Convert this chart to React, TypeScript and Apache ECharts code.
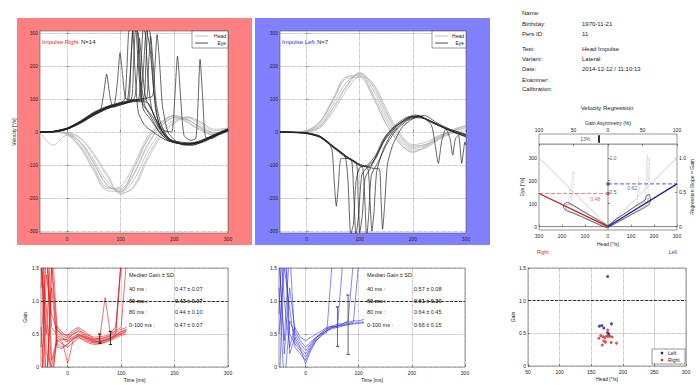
import React, { useEffect, useRef } from 'react';
import * as echarts from 'echarts';

// ---------------- data ----------------
const TIME25 = [-50, -25, 0, 25, 50, 75, 100, 125, 150, 175, 200, 225, 250, 275, 300];
const TIME10 = [-50, -40, -30, -20, -10, 0, 10, 20, 30, 40, 50, 60, 70, 80, 90, 100, 110];
const TIME_TICKS = [0, 100, 200, 300];
const VEL_TICKS = [-300, -200, -100, 0, 100, 200, 300];

// Impulse Right: head traces (light gray)
const HEAD_RIGHT = [
  [0, 0, -3, -30, -92, -160, -176, -128, -42, 14, 42, 36, 12, -5, 4],
  [0, 0, -8, -48, -118, -178, -180, -108, -22, 26, 50, 30, 6, -10, 6],
  [0, -40, -10, -30, -85, -150, -182, -145, -60, 2, 36, 42, 20, -2, 2],
  [0, 0, -2, -20, -70, -135, -188, -162, -75, -8, 30, 46, 26, 4, 10],
  [0, 0, -5, -40, -105, -168, -172, -110, -25, 25, 50, 38, 10, -10, 0],
  [0, 0, -7, -45, -112, -172, -165, -98, -15, 30, 48, 28, 4, -8, 10],
  [0, 0, -1, -18, -65, -128, -185, -168, -85, -15, 25, 45, 30, 8, 12],
  [0, 0, -3, -32, -95, -162, -180, -125, -38, 18, 44, 36, 14, -3, 5],
];
// Impulse Right: eye traces (dark)
const EYE_RIGHT = [
  [[-50, 0], [-25, 1], [0, 9], [25, 28], [50, 52], [62, 62], [68, 110], [74, 175], [80, 110], [86, 75], [100, 82], [112, 90], [118, 180], [124, 310], [130, 310], [136, 170], [142, 70], [155, 40], [170, 5], [185, -20], [200, -30], [225, -38], [250, -28], [275, -10], [300, 8]],
  [[-50, 0], [-25, 2], [0, 11], [25, 32], [50, 58], [75, 74], [88, 82], [94, 150], [99, 240], [104, 170], [110, 100], [125, 98], [135, 95], [142, 180], [148, 310], [155, 250], [162, 120], [172, 20], [190, -25], [210, -35], [235, -40], [260, -20], [285, 0], [300, 10]],
  [[-50, 0], [-25, 1], [0, 10], [25, 30], [50, 56], [75, 75], [100, 88], [108, 100], [112, 200], [116, 310], [122, 310], [127, 180], [133, 60], [145, 20], [165, -5], [185, -25], [210, -33], [235, -35], [260, -22], [285, -5], [300, 5]],
  [[-50, 0], [-25, 0], [0, 8], [25, 26], [50, 50], [75, 70], [100, 84], [115, 92], [119, 200], [123, 310], [128, 310], [133, 200], [140, 90], [155, 50], [172, 0], [190, -28], [215, -35], [245, -30], [270, -12], [300, 6]],
  [[-50, 0], [-25, 1], [0, 10], [25, 31], [50, 57], [75, 76], [100, 88], [120, 98], [124, 200], [128, 310], [133, 300], [138, 160], [145, 80], [160, 45], [178, -5], [200, -32], [225, -36], [250, -25], [275, -8], [300, 9]],
  [[-50, 0], [-25, 2], [0, 12], [25, 33], [50, 60], [75, 78], [100, 90], [125, 100], [130, 160], [135, 285], [140, 200], [147, 100], [160, 60], [175, 10], [195, -25], [220, -40], [245, -32], [270, -15], [300, 4]],
  [[-50, 0], [-25, 1], [0, 9], [25, 29], [50, 54], [75, 73], [100, 86], [125, 96], [134, 100], [138, 200], [142, 310], [146, 300], [151, 160], [158, 70], [172, 15], [190, -22], [210, -30], [240, -34], [265, -18], [290, 0], [300, 6]],
  [[-50, 0], [-25, 1], [0, 10], [25, 30], [50, 55], [75, 74], [100, 85], [125, 95], [143, 102], [147, 200], [151, 310], [155, 300], [160, 170], [166, 60], [178, 0], [195, -28], [220, -38], [250, -30], [275, -12], [300, 7]],
  [[-50, 0], [-25, 0], [0, 8], [25, 27], [50, 51], [75, 71], [100, 83], [125, 93], [148, 100], [152, 200], [156, 290], [161, 200], [166, 90], [175, 25], [190, -20], [215, -35], [240, -36], [265, -20], [300, 3]],
  [[-50, 0], [-25, 2], [0, 11], [25, 31], [50, 57], [75, 75], [100, 87], [125, 97], [150, 103], [160, 110], [164, 200], [168, 295], [173, 200], [178, 80], [188, 0], [205, -30], [230, -40], [255, -30], [280, -10], [300, 8]],
  [[-50, 0], [-25, 1], [0, 9], [25, 29], [50, 53], [75, 72], [100, 84], [125, 92], [150, 90], [165, 40], [180, 5], [195, 0], [200, 80], [206, 230], [212, 100], [218, -10], [230, -25], [240, -20], [244, 80], [248, 220], [253, 100], [258, -15], [270, -20], [285, -5], [300, 5]],
];

// Impulse Left: head traces
const HEAD_LEFT = [
  [0, 0, 2, 22, 85, 150, 176, 128, 45, -20, -50, -40, -18, 2, 12],
  [0, 0, 5, 32, 102, 168, 170, 108, 25, -32, -60, -45, -20, 0, 15],
  [0, 0, 1, 15, 70, 135, 178, 145, 62, -8, -42, -38, -16, 5, 20],
  [0, 0, 3, 28, 95, 162, 165, 105, 22, -35, -62, -42, -14, 8, 18],
  [0, 0, 2, 18, 75, 140, 180, 138, 55, -12, -46, -36, -12, -2, -10],
  [0, 0, 4, 30, 98, 165, 172, 115, 35, -26, -55, -48, -22, -4, 5],
  [0, 0, 1, 12, 62, 125, 168, 148, 70, -2, -38, -30, -10, 3, 22],
];
// Impulse Left: eye traces
const EYE_LEFT = [
  [[-50, 0], [-25, -1], [0, -3], [25, -14], [40, -30], [48, -55], [52, -150], [56, -225], [60, -160], [65, -80], [80, -80], [100, -98], [118, -105], [135, -60], [150, -15], [170, 20], [195, 45], [215, 48], [235, 20], [242, -40], [248, -95], [254, -30], [262, 10], [270, -20], [275, -70], [280, -20], [286, -10], [292, -95], [298, -30], [300, -40]],
  [[-50, 0], [-25, -1], [0, -4], [25, -15], [50, -45], [72, -72], [78, -150], [83, -310], [88, -280], [93, -150], [100, -108], [115, -100], [130, -70], [145, -20], [165, 15], [190, 40], [210, 50], [235, 30], [260, 12], [285, -5], [300, -12]],
  [[-50, 0], [-25, -1], [0, -3], [25, -13], [50, -44], [75, -75], [85, -88], [89, -200], [93, -315], [98, -250], [104, -130], [115, -105], [130, -80], [145, -30], [165, 10], [185, 38], [205, 52], [230, 35], [255, 15], [280, -3], [300, -15]],
  [[-50, 0], [-25, -2], [0, -5], [25, -16], [50, -47], [75, -78], [94, -95], [97, -200], [100, -305], [105, -250], [110, -140], [120, -110], [135, -60], [150, -10], [170, 25], [195, 48], [215, 45], [240, 25], [265, 8], [290, -8], [300, -14]],
  [[-50, 0], [-25, -1], [0, -2], [25, -12], [50, -42], [75, -73], [100, -100], [106, -110], [110, -220], [113, -320], [117, -250], [122, -130], [135, -90], [150, -40], [168, 5], [190, 35], [210, 46], [235, 32], [260, 14], [285, 0], [300, -8]],
  [[-50, 0], [-25, -1], [0, -4], [25, -15], [50, -46], [75, -76], [100, -102], [115, -108], [119, -200], [123, -300], [127, -240], [132, -120], [145, -50], [160, -5], [180, 28], [200, 44], [225, 40], [250, 20], [275, 2], [300, -10]],
  [[-50, 0], [-25, -1], [0, -3], [25, -14], [50, -45], [75, -74], [100, -100], [125, -110], [137, -112], [140, -200], [143, -295], [147, -220], [152, -100], [162, -40], [180, 15], [200, 40], [222, 50], [245, 28], [270, 8], [295, -5], [300, -8]],
];

// Gain traces (Right impulses, red)
const GAIN_RIGHT = [
  [2.0, -0.5, 1.6, 0.52, 0.44, 0.40, 0.46, 0.50, 0.45, 0.41, 0.38, 0.40, 0.42, 0.45, 0.49, 0.54, 0.57],
  [-0.8, 2.2, 0.1, 0.40, 0.35, 0.30, 0.37, 0.44, 0.42, 0.38, 0.36, 0.37, 0.40, 0.43, 0.47, 0.51, 0.55],
  [1.5, 0.9, -0.4, 0.62, 0.52, 0.46, 0.53, 0.58, 0.50, 0.45, 0.42, 0.44, 1.05, 0.50, 0.56, 1.6, null],
  [0.3, 1.8, 0.6, 0.48, 0.42, 0.38, 0.44, 0.49, 0.47, 0.43, 0.40, 0.39, 0.41, 0.44, 0.50, 1.6, null],
  [1.7, -0.3, 1.2, 0.35, 0.30, 0.34, 0.42, 0.47, 0.44, 0.40, 0.37, 0.36, 0.38, 0.41, 0.46, 0.50, 0.53],
  [-0.5, 1.4, 0.8, 0.55, 0.50, 0.48, 0.56, 0.60, 0.55, 0.48, 0.45, 0.46, 0.47, 0.50, 0.62, 1.6, null],
  [2.5, 0.2, 0.0, 0.45, 0.38, 0.05, 0.40, 0.48, 0.46, 0.42, 0.39, 0.38, 0.40, 0.43, 0.48, 0.53, 0.56],
  [1.2, 1.9, -0.2, 0.40, 0.42, 0.42, 0.50, 0.54, 0.48, 0.44, 0.41, 0.42, 0.44, 0.47, 0.52, 0.57, 0.60],
  [0.6, -0.5, 1.5, 0.30, 0.28, 0.35, 0.43, 0.46, 0.40, 0.36, 0.34, 0.35, 0.37, 0.40, 0.44, 0.48, 0.50],
  [1.6, 0.5, 2.0, 0.58, 0.47, 0.44, 0.50, 0.55, 0.52, 0.47, 0.43, 0.43, 0.45, 0.48, 0.55, 0.60, 1.6],
];
// Gain traces (Left impulses, blue)
const GAIN_LEFT = [
  [1.8, 0.2, 1.2, 0.55, 0.40, 0.30, 0.38, 0.45, 0.52, 0.58, 0.62, 0.65, 0.66, 0.68, 0.70, 0.70, 0.72],
  [-0.5, 2.0, 0.5, 0.35, 0.25, 0.15, 0.30, 0.42, 0.50, 0.55, 0.58, 0.60, 0.62, 0.65, 0.66, 0.68, 0.68],
  [2.2, 1.0, 0.3, 0.60, 0.45, 0.40, 0.45, 0.50, 0.55, 0.60, 0.62, 0.60, 1.6, null, null, null, null],
  [0.5, 1.5, 0.9, 0.30, 0.20, 0.10, 0.28, 0.40, 0.48, 0.52, 1.6, null, null, null, null, null, null],
  [1.2, -0.3, 0.7, 0.50, 0.35, 0.25, 0.35, 0.45, 0.50, 0.55, 0.60, 0.63, 0.65, 0.70, 1.6, null, null],
  [0.8, 2.5, 0.2, 0.45, 0.30, 0.20, 0.33, 0.44, 0.52, 0.58, 0.60, 0.62, 0.64, 0.66, 0.68, 1.6, null],
  [1.6, 0.4, 1.8, 0.40, 0.28, 0.05, 0.25, 0.40, 0.48, 0.55, 0.60, 0.62, 0.63, 0.64, 0.65, 0.66, 0.67],
];

// Median gain ± SD at 60 / 80 ms (error bars)
const ERR_TIMES = [60, 80];
const RIGHT_MED = [0.43, 0.44];
const RIGHT_SD = [0.07, 0.10];
const LEFT_MED = [0.61, 0.64];
const LEFT_SD = [0.30, 0.45];

// Gain tables
const GAIN_ROW_LABELS = ['40 ms :', '60 ms :', '80 ms :', '0-100 ms :'];
const GAIN_RIGHT_TEXT = ['0.47 ± 0.07', '0.43 ± 0.07', '0.44 ± 0.10', '0.47 ± 0.07'];
const GAIN_LEFT_TEXT = ['0.57 ± 0.08', '0.61 ± 0.30', '0.64 ± 0.45', '0.66 ± 0.15'];

// Scatter: head velocity vs gain
const SCATTER_LEFT = [[176, 1.37], [163, 0.61], [167, 0.62], [170, 0.58], [182, 0.645], [176, 0.51], [178, 0.49]];
const SCATTER_RIGHT = [[165, 0.465], [162, 0.425], [168.5, 0.45], [171.5, 0.435], [176, 0.55], [174.5, 0.46], [177, 0.455], [179.5, 0.455], [183, 0.445], [170, 0.385], [172.5, 0.365], [167.5, 0.32], [181.5, 0.36], [190, 0.35]];

// Velocity regression
const SLOPE_RIGHT = 0.48;
const SLOPE_LEFT = 0.62;
const ASYMMETRY = 13;
const REG_LEFT_OUTER = [[-190, 100], [-175, 106], [-150, 92], [-120, 74], [-80, 50], [-40, 27], [-10, 10], [0, 2], [-5, -5], [-30, 4], [-70, 22], [-110, 40], [-150, 58], [-180, 68], [-194, 84], [-190, 100]];
const REG_LEFT_INNER = [[-182, 95], [-165, 96], [-140, 84], [-110, 66], [-70, 43], [-35, 22], [-8, 6], [-8, 0], [-35, 10], [-75, 28], [-115, 46], [-155, 63], [-182, 76], [-186, 88], [-182, 95]];
const REG_RIGHT_OUTER = [[0, -4], [40, 18], [80, 40], [120, 62], [155, 80], [178, 95], [186, 115], [180, 140], [168, 136], [160, 115], [120, 90], [80, 62], [40, 36], [5, 8], [0, -4]];
const REG_RIGHT_INNER = [[6, 0], [45, 22], [85, 45], [125, 67], [160, 88], [174, 102], [176, 122], [168, 124], [155, 106], [115, 84], [75, 57], [35, 30], [6, 6], [6, 0]];
const REG_SACC = [
  [[-165, 95], [-162, 130], [-158, 180], [-154, 225], [-150, 240], [-148, 205], [-152, 160], [-158, 110]],
  [[-172, 100], [-170, 140], [-165, 165], [-160, 130]],
  [[125, 85], [128, 130], [130, 175], [133, 215], [136, 190], [138, 140]],
  [[160, 105], [163, 160], [166, 220], [168, 280], [170, 315], [173, 290], [172, 230], [170, 170]],
  [[172, 110], [175, 170], [177, 240], [180, 300], [182, 260], [181, 190]],
];

// Patient info
const INFO_LABELS = ['Name:', 'Birthday:', 'Pers ID:', 'Test:', 'Variant:', 'Date:', 'Examiner:', 'Calibration:'];
const INFO_VALUES = ['', '1970-11-21', '11', 'Head Impulse', 'Lateral', '2014-12-12 / 11:10:13', '', ''];

// ---------------- option ----------------
const FONT = 'Liberation Sans, Arial, Helvetica, sans-serif';
const LBL = { fontSize: 5, color: '#222', fontFamily: FONT };
const NAME_STYLE = { fontSize: 5, color: '#222', fontFamily: FONT };
const SPLIT = { show: true, lineStyle: { type: 'dotted', color: '#777', width: 0.6 } };
const NOSPLIT = { show: false };
const TICK = (extra = {}) => ({ show: true, inside: true, length: 2, lineStyle: { color: '#444', width: 0.6 }, ...extra });

function txt(text: string, x: number, y: number, opts: any = {}) {
  const { size = 6, color = '#222', align = 'left', weight = 'normal' } = opts;
  return {
    type: 'text',
    z: 20,
    silent: true,
    style: {
      text, x, y,
      fill: color,
      font: `${weight} ${size}px ${FONT}`,
      textAlign: align,
      align,
      textVerticalAlign: 'middle',
      verticalAlign: 'middle',
    },
  };
}

function line(xi: number, yi: number, data: any[], color: string, width: number, extra: any = {}) {
  return {
    type: 'line', xAxisIndex: xi, yAxisIndex: yi, data, symbol: 'none', silent: true,
    animation: false,
    lineStyle: { color, width, ...(extra.lineStyle || {}) },
    ...Object.fromEntries(Object.entries(extra).filter(([k]) => k !== 'lineStyle')),
  };
}

function errBar(t: number, med: number, sd: number) {
  const lo = med - sd, hi = med + sd;
  return [[t - 3, lo], [t + 3, lo], [t, lo], [t, hi], [t - 3, hi], [t + 3, hi]];
}

const fmtGain = (v: number) => (v === 0 ? '0' : v.toFixed(1));
const fmtAbs = (v: number) => String(Math.abs(v));

function timeX(gridIndex: number, withName: boolean) {
  return {
    gridIndex, type: 'value', min: -50, max: 300,
    axisLine: { show: false },
    axisTick: TICK({ customValues: TIME_TICKS }),
    axisLabel: { ...LBL, margin: 3, customValues: TIME_TICKS },
    splitLine: SPLIT,
    ...(withName ? { name: 'Time [ms]', nameLocation: 'middle', nameGap: 10, nameTextStyle: NAME_STYLE } : {}),
  };
}

function buildOption() {
  const gridBase = { show: true, backgroundColor: '#fff', borderColor: '#555', borderWidth: 0.6, containLabel: false };
  const grid = [
    { ...gridBase, left: 40, top: 31, width: 188, height: 202 },
    { ...gridBase, left: 280, top: 31, width: 186, height: 202 },
    { ...gridBase, left: 41, top: 268, width: 187, height: 99 },
    { ...gridBase, left: 279, top: 268, width: 186, height: 99 },
    { ...gridBase, left: 528, top: 268, width: 158, height: 98 },
    { ...gridBase, left: 539, top: 144, width: 138, height: 86 },
    { ...gridBase, left: 539, top: 134, width: 138, height: 10 },
  ];

  const xAxis = [
    timeX(0, false),
    timeX(1, false),
    timeX(2, true),
    timeX(3, true),
    {
      gridIndex: 4, type: 'value', min: 50, max: 300, interval: 50,
      axisLine: { show: false }, axisTick: TICK(), axisLabel: { ...LBL, margin: 3 }, splitLine: SPLIT,
      name: 'Head [°/s]', nameLocation: 'middle', nameGap: 10, nameTextStyle: NAME_STYLE,
    },
    {
      gridIndex: 5, type: 'value', min: -300, max: 300, interval: 100,
      axisLine: { show: false }, axisTick: TICK(), axisLabel: { ...LBL, margin: 3, formatter: fmtAbs }, splitLine: NOSPLIT,
      name: 'Head [°/s]', nameLocation: 'middle', nameGap: 11, nameTextStyle: NAME_STYLE,
    },
    {
      gridIndex: 6, type: 'value', position: 'top', min: -100, max: 100, interval: 50,
      axisLine: { show: false }, axisTick: TICK(), axisLabel: { ...LBL, margin: 2, formatter: fmtAbs }, splitLine: NOSPLIT,
      name: 'Gain Asymmetry (%)', nameLocation: 'middle', nameGap: 9, nameTextStyle: NAME_STYLE,
    },
  ];

  const velY = (gridIndex: number, withName: boolean) => ({
    gridIndex, type: 'value', min: -306, max: 306,
    axisLine: { show: false },
    axisTick: TICK({ customValues: VEL_TICKS }),
    axisLabel: { ...LBL, margin: 2, customValues: VEL_TICKS },
    splitLine: SPLIT,
    ...(withName ? { name: 'Velocity [°/s]', nameLocation: 'middle', nameGap: 24, nameRotate: 90, nameTextStyle: NAME_STYLE } : {}),
  });
  const gainY = (gridIndex: number, nameGap: number | null) => ({
    gridIndex, type: 'value', min: 0, max: 1.5, interval: 0.5,
    axisLine: { show: false }, axisTick: TICK(), axisLabel: { ...LBL, margin: 2, formatter: fmtGain }, splitLine: SPLIT,
    ...(nameGap !== null ? { name: 'Gain', nameLocation: 'middle', nameGap, nameRotate: 90, nameTextStyle: NAME_STYLE } : {}),
  });

  const yAxis = [
    velY(0, true),
    velY(1, false),
    gainY(2, 14),
    gainY(3, null),
    gainY(4, 10),
    {
      gridIndex: 5, type: 'value', min: -15, max: 360,
      axisLine: { show: false }, axisTick: TICK({ customValues: [0, 100, 200, 300] }),
      axisLabel: { ...LBL, margin: 2, customValues: [0, 100, 200, 300] }, splitLine: NOSPLIT,
      name: 'Eye [°/s]', nameLocation: 'middle', nameGap: 11, nameRotate: 90, nameTextStyle: NAME_STYLE,
    },
    {
      gridIndex: 5, type: 'value', position: 'right', min: -0.05, max: 1.2,
      axisLine: { show: false }, axisTick: TICK({ customValues: [0, 0.5, 1] }),
      axisLabel: { ...LBL, margin: 2, customValues: [0, 0.5, 1], formatter: fmtGain }, splitLine: NOSPLIT,
      name: 'Regression Slope = Gain', nameLocation: 'middle', nameGap: 11, nameRotate: 90, nameTextStyle: NAME_STYLE,
    },
    { gridIndex: 6, type: 'value', min: 0, max: 1, show: false, splitLine: NOSPLIT },
  ];

  const HEAD_C = '#b2b2b2';
  const EYE_C = '#222';
  const series: any[] = [];

  // top-left
  HEAD_RIGHT.forEach((d) => series.push(line(0, 0, TIME25.map((t, i) => [t, d[i]]), HEAD_C, 0.7, { smooth: 0.35 })));
  EYE_RIGHT.forEach((d) => series.push(line(0, 0, d, EYE_C, 0.7, { smooth: 0.2 })));
  // top-middle
  HEAD_LEFT.forEach((d) => series.push(line(1, 1, TIME25.map((t, i) => [t, d[i]]), HEAD_C, 0.7, { smooth: 0.35 })));
  EYE_LEFT.forEach((d) => series.push(line(1, 1, d, EYE_C, 0.7, { smooth: 0.2 })));

  const refLine = {
    silent: true, symbol: 'none', label: { show: false },
    lineStyle: { color: '#333', type: [3, 1.5], width: 1 },
    data: [{ yAxis: 1 }],
  };
  // bottom-left
  GAIN_RIGHT.forEach((d, k) => series.push(line(2, 2, TIME10.map((t, i) => [t, d[i]]), 'rgba(228,20,20,0.85)', 0.7,
    k === 0 ? { markLine: refLine } : {})));
  ERR_TIMES.forEach((t, i) => series.push(line(2, 2, errBar(t, RIGHT_MED[i], RIGHT_SD[i]), '#111', 0.8)));
  // bottom-middle
  GAIN_LEFT.forEach((d, k) => series.push(line(3, 3, TIME10.map((t, i) => [t, d[i]]), 'rgba(40,40,225,0.8)', 0.7,
    k === 0 ? { markLine: refLine } : {})));
  ERR_TIMES.forEach((t, i) => series.push(line(3, 3, errBar(t, LEFT_MED[i], LEFT_SD[i]), '#444', 0.8)));

  // bottom-right scatter
  series.push({
    type: 'scatter', name: 'Left', xAxisIndex: 4, yAxisIndex: 4, data: SCATTER_LEFT, symbolSize: 3,
    itemStyle: { color: '#1c1c8c' }, silent: true,
    markLine: refLine,
  });
  series.push({
    type: 'scatter', name: 'Right', xAxisIndex: 4, yAxisIndex: 4, data: SCATTER_RIGHT, symbolSize: 3,
    itemStyle: { color: '#d82a2a' }, silent: true,
  });

  // regression
  series.push(line(5, 5, [[-300, 300], [0, 0], [300, 300]], '#cfcfcf', 1));
  REG_SACC.forEach((d) => series.push(line(5, 5, d, '#bdbdbd', 0.7, { lineStyle: { type: 'dotted' } })));
  series.push(line(5, 5, REG_LEFT_INNER, '#9a9a9a', 0.6));
  series.push(line(5, 5, REG_LEFT_OUTER, '#333', 0.7));
  series.push(line(5, 5, REG_RIGHT_INNER, '#9a9ab8', 0.6));
  series.push(line(5, 5, REG_RIGHT_OUTER, '#333', 0.7));
  series.push(line(5, 5, [[0, -15], [0, 360]], '#555', 0.7));
  series.push(line(5, 5, [[-300, 0], [300, 0]], '#555', 0.7));
  series.push(line(5, 5, [[-300, 300 * SLOPE_RIGHT], [0, 300 * SLOPE_RIGHT]], '#e07a7a', 0.9, { lineStyle: { type: [4, 2] } }));
  series.push(line(5, 5, [[0, 300 * SLOPE_LEFT], [300, 300 * SLOPE_LEFT]], '#4a4ad0', 0.9, { lineStyle: { type: [4, 2] } }));
  series.push(line(5, 5, [[-300, 300 * SLOPE_RIGHT], [0, 0]], '#c41c1c', 1.3));
  series.push(line(5, 5, [[0, 0], [300, 300 * SLOPE_LEFT]], '#1c1ca4', 1.3));
  series.push({
    type: 'scatter', xAxisIndex: 5, yAxisIndex: 5, symbol: 'rect', symbolSize: 3, silent: true,
    data: [
      { value: [0, 300 * SLOPE_RIGHT], itemStyle: { color: '#c41c1c' } },
      { value: [0, 300 * SLOPE_LEFT], itemStyle: { color: '#1c1ca4' } },
    ],
  });
  series.push({
    type: 'scatter', xAxisIndex: 5, yAxisIndex: 5, symbolSize: 0, silent: true,
    label: { show: true, fontSize: 5, fontFamily: FONT, position: 'inside' },
    data: [
      { value: [-55, 300 * SLOPE_RIGHT - 26], label: { formatter: SLOPE_RIGHT.toFixed(2), color: '#d03030' } },
      { value: [105, 300 * SLOPE_LEFT - 20], label: { formatter: SLOPE_LEFT.toFixed(2), color: '#3030c0' } },
      { value: [22, 300], label: { formatter: '1.0', color: '#222' } },
      { value: [22, 150], label: { formatter: '0.5', color: '#222' } },
    ],
  });
  // asymmetry bar
  series.push(line(6, 7, [[-ASYMMETRY, 0.12], [-ASYMMETRY, 0.88]], '#333', 2));
  series.push({
    type: 'scatter', xAxisIndex: 6, yAxisIndex: 7, symbolSize: 0, silent: true,
    label: { show: true, fontSize: 5, fontFamily: FONT, position: 'inside', color: '#222', formatter: `${ASYMMETRY}%` },
    data: [[-33, 0.5]],
  });

  // graphic
  const graphic: any[] = [
    { type: 'rect', z: -10, silent: true, shape: { x: 17, y: 18, width: 235, height: 227 }, style: { fill: '#ff8080' } },
    { type: 'rect', z: -10, silent: true, shape: { x: 255, y: 18, width: 235, height: 227 }, style: { fill: '#8080ff' } },
    txt('Impulse Right', 42, 42, { color: '#e82a2a' }),
    txt('N=14', 81, 42),
    txt('Impulse Left', 282, 42, { color: '#3030e0' }),
    txt('N=7', 317, 42),
  ];
  // legends in top panels
  [[192, 228], [432, 466]].forEach(([x0, x1]) => {
    graphic.push({ type: 'rect', z: 20, silent: true, shape: { x: x0, y: 31, width: x1 - x0, height: 17 }, style: { fill: '#fff', stroke: '#555', lineWidth: 0.6 } });
    graphic.push({ type: 'line', z: 21, silent: true, shape: { x1: x0 + 3, y1: 36, x2: x0 + 16, y2: 36 }, style: { stroke: HEAD_C, lineWidth: 0.8 } });
    graphic.push({ type: 'line', z: 21, silent: true, shape: { x1: x0 + 3, y1: 43, x2: x0 + 16, y2: 43 }, style: { stroke: EYE_C, lineWidth: 0.8 } });
    graphic.push(txt('Head', x1 - 2, 36, { size: 5, align: 'right' }));
    graphic.push(txt('Eye', x1 - 2, 43, { size: 5, align: 'right' }));
  });
  // gain tables
  const rowsY = [289, 301, 312, 325];
  [[129, 175, GAIN_RIGHT_TEXT], [367, 414, GAIN_LEFT_TEXT]].forEach(([xl, xv, vals]: any) => {
    graphic.push(txt('Median Gain ± SD', xl, 275, { size: 5.5 }));
    GAIN_ROW_LABELS.forEach((lab, i) => {
      const weight = i === 1 ? 'bold' : 'normal';
      graphic.push(txt(lab, xl, rowsY[i], { size: 5.5, weight }));
      graphic.push(txt(vals[i], xv, rowsY[i], { size: 5.5, weight }));
    });
  });
  // scatter legend
  graphic.push({ type: 'rect', z: 20, silent: true, shape: { x: 652, y: 349, width: 33, height: 15 }, style: { fill: '#fff', stroke: '#555', lineWidth: 0.6 } });
  graphic.push({ type: 'circle', z: 21, silent: true, shape: { cx: 662, cy: 353, r: 1.3 }, style: { fill: '#1c1c8c' } });
  graphic.push({ type: 'circle', z: 21, silent: true, shape: { cx: 662, cy: 360, r: 1.3 }, style: { fill: '#d82a2a' } });
  graphic.push(txt('Left', 668, 353, { size: 5 }));
  graphic.push(txt('Right', 668, 360, { size: 5 }));
  // info block
  const infoY = [13, 24, 34, 49, 59, 69, 80, 89];
  INFO_LABELS.forEach((lab, i) => {
    graphic.push(txt(lab, 522, infoY[i], { size: 6 }));
    if (INFO_VALUES[i]) graphic.push(txt(INFO_VALUES[i], 582, infoY[i], { size: 6 }));
  });
  graphic.push(txt('Velocity Regression', 607, 108, { size: 6, align: 'center' }));
  graphic.push(txt('Right', 537, 252, { size: 5, color: '#d03030' }));
  graphic.push(txt('Left', 677, 252, { size: 5, color: '#3030c0', align: 'right' }));

  return {
    animation: false,
    backgroundColor: '#fff',
    textStyle: { fontFamily: FONT },
    grid, xAxis, yAxis, series, graphic,
  };
}

export default function App() {
  const ref = useRef<HTMLDivElement>(null);
  useEffect(() => {
    if (!ref.current) return;
    const chart = echarts.init(ref.current, null, { renderer: 'svg' });
    chart.setOption(buildOption() as any);
    return () => chart.dispose();
  }, []);
  return (
    <div
      ref={ref}
      style={{ position: 'fixed', left: 0, top: 0, width: 700, height: 385, background: '#fff' }}
    />
  );
}
